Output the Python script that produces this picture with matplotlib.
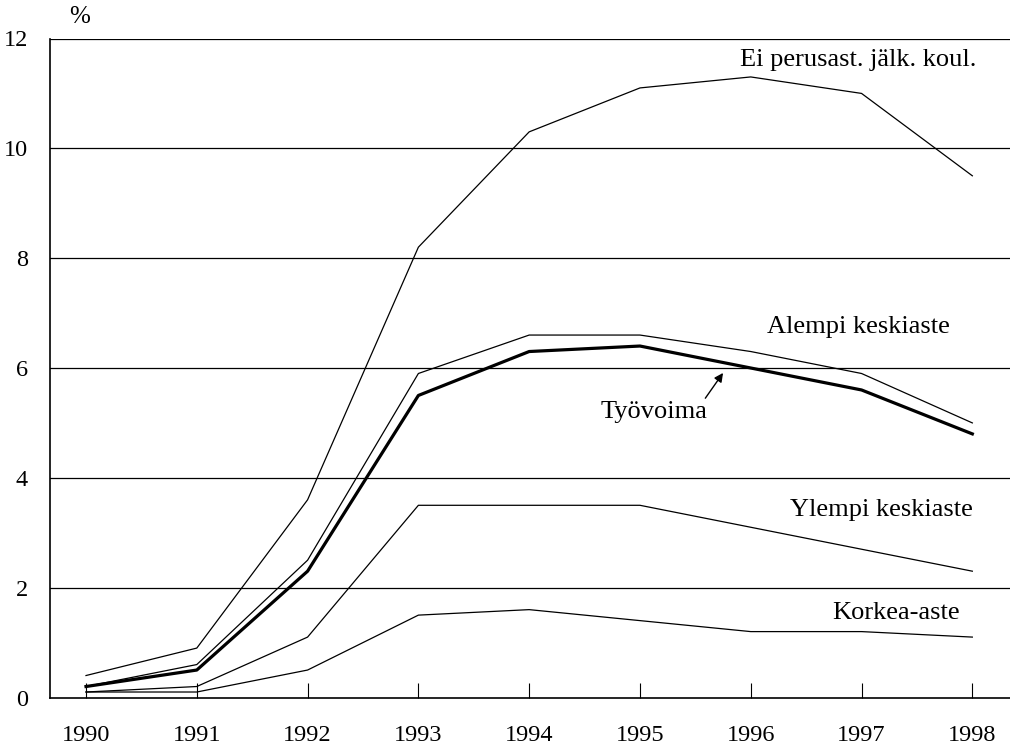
import matplotlib
matplotlib.use("Agg")
import matplotlib.pyplot as plt

years = [1990, 1991, 1992, 1993, 1994, 1995, 1996, 1997, 1998]
ei_perusast = [0.4, 0.9, 3.6, 8.2, 10.3, 11.1, 11.3, 11.0, 9.5]
alempi = [0.2, 0.6, 2.5, 5.9, 6.6, 6.6, 6.3, 5.9, 5.0]
tyovoima = [0.2, 0.5, 2.3, 5.5, 6.3, 6.4, 6.0, 5.6, 4.8]
ylempi = [0.1, 0.2, 1.1, 3.5, 3.5, 3.5, 3.1, 2.7, 2.3]
korkea = [0.1, 0.1, 0.5, 1.5, 1.6, 1.4, 1.2, 1.2, 1.1]
yticks = [0, 2, 4, 6, 8, 10, 12]

plt.rcParams['font.family'] = ['Liberation Serif', 'DejaVu Serif']

fig = plt.figure(figsize=(10.10, 7.47), dpi=100)
ax = fig.add_axes([50/1010, 1 - 697.5/747, 960/1010, (697.5 - 38.5)/747])

ax.set_xlim(1989.675, 1998.34)
ax.set_ylim(0, 12)

for y in yticks[1:]:
    ax.axhline(y, color='black', lw=0.9, zorder=1)

for s in [ei_perusast, alempi, ylempi, korkea]:
    ax.plot(years, s, color='black', lw=0.9, zorder=3)
ax.plot(years, tyovoima, color='black', lw=2.3, zorder=4)

ax.spines['top'].set_visible(False)
ax.spines['right'].set_visible(False)
ax.spines['left'].set_linewidth(1.2)
ax.spines['bottom'].set_linewidth(1.2)

tfs = 17.5
ax.set_xticks(years)
ax.set_xticklabels([str(y) for y in years], fontsize=tfs)
ax.tick_params(axis='x', direction='in', length=11, width=0.8, pad=20)
ax.set_yticks(yticks)
ax.set_yticklabels([str(y) for y in yticks], fontsize=tfs)
ax.tick_params(axis='y', length=0, pad=16)

fs = 19
ax.text(1996.97, 11.6, "Ei perusast. jälk. koul.", fontsize=fs, ha='center', va='center')
ax.text(1996.97, 6.75, "Alempi keskiaste", fontsize=fs, ha='center', va='center')
ax.text(1995.13, 5.2, "Työvoima", fontsize=fs, ha='center', va='center')
ax.text(1997.18, 3.42, "Ylempi keskiaste", fontsize=fs, ha='center', va='center')
ax.text(1997.31, 1.54, "Korkea-aste", fontsize=fs, ha='center', va='center')
ax.annotate("", xy=(1995.75, 5.91), xytext=(1995.59, 5.45),
            arrowprops=dict(arrowstyle='-|>', color='black', lw=1.0,
                            mutation_scale=13, shrinkA=0, shrinkB=0))

fig.text(80/1010, 1 - 17/747, "%", fontsize=18, ha='center', va='center')

fig.savefig("out.png", dpi=100)
